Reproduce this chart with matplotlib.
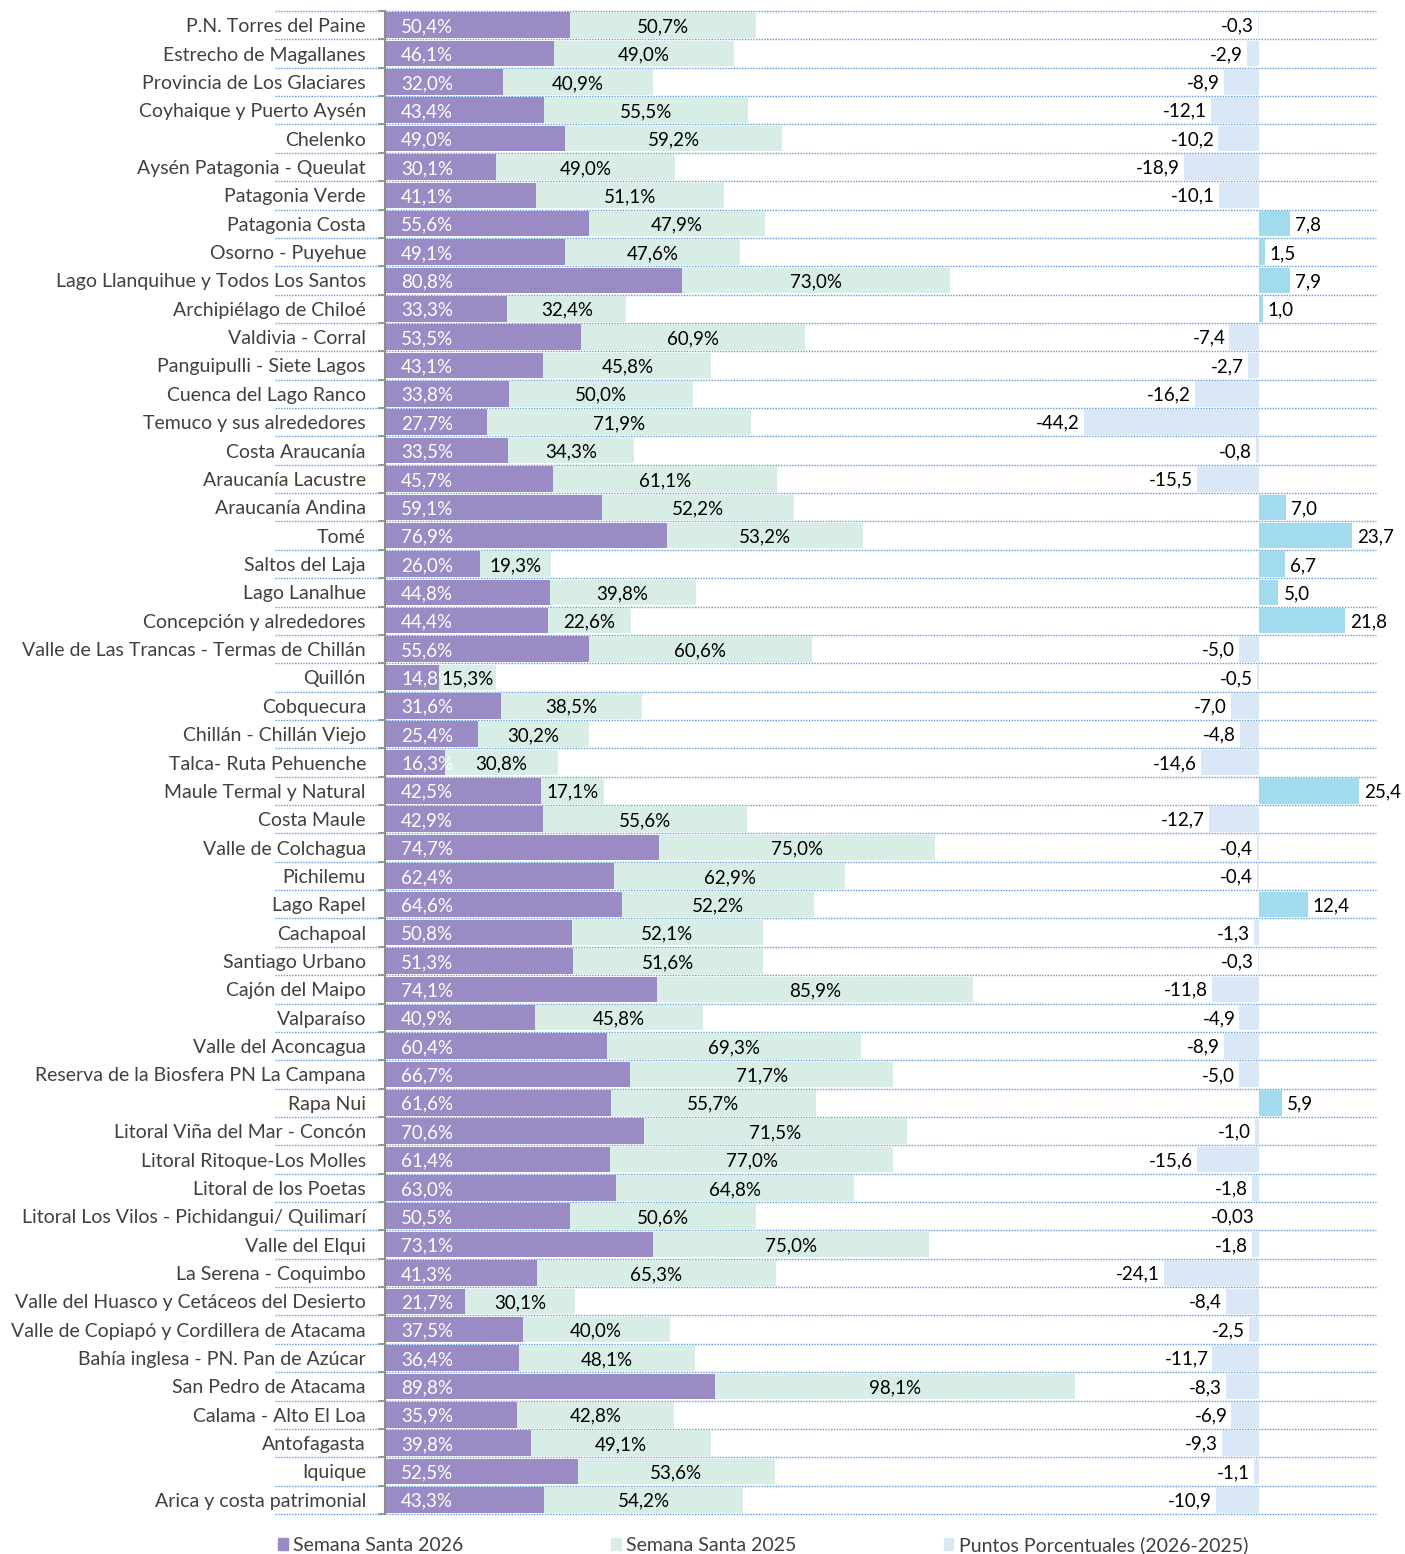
import numpy as np
import matplotlib.pyplot as plt
from matplotlib.patches import Patch

plt.rcParams['font.family'] = ['Lato', 'DejaVu Sans']

categories = [
    "P.N. Torres del Paine", "Estrecho de Magallanes", "Provincia de Los Glaciares",
    "Coyhaique y Puerto Aysén", "Chelenko", "Aysén Patagonia - Queulat",
    "Patagonia Verde", "Patagonia Costa", "Osorno - Puyehue",
    "Lago Llanquihue y Todos Los Santos", "Archipiélago de Chiloé", "Valdivia - Corral",
    "Panguipulli - Siete Lagos", "Cuenca del Lago Ranco", "Temuco y sus alrededores",
    "Costa Araucanía", "Araucanía Lacustre", "Araucanía Andina", "Tomé",
    "Saltos del Laja", "Lago Lanalhue", "Concepción y alrededores",
    "Valle de Las Trancas - Termas de Chillán", "Quillón", "Cobquecura",
    "Chillán - Chillán Viejo", "Talca- Ruta Pehuenche", "Maule Termal y Natural",
    "Costa Maule", "Valle de Colchagua", "Pichilemu", "Lago Rapel", "Cachapoal",
    "Santiago Urbano", "Cajón del Maipo", "Valparaíso", "Valle del Aconcagua",
    "Reserva de la Biosfera PN La Campana", "Rapa Nui", "Litoral Viña del Mar - Concón",
    "Litoral Ritoque-Los Molles", "Litoral de los Poetas",
    "Litoral Los Vilos - Pichidangui/ Quilimarí", "Valle del Elqui",
    "La Serena - Coquimbo", "Valle del Huasco y Cetáceos del Desierto",
    "Valle de Copiapó y Cordillera de Atacama", "Bahía inglesa - PN. Pan de Azúcar",
    "San Pedro de Atacama", "Calama - Alto El Loa", "Antofagasta", "Iquique",
    "Arica y costa patrimonial",
]

ss2026 = [50.4, 46.1, 32.0, 43.4, 49.0, 30.1, 41.1, 55.6, 49.1, 80.8, 33.3, 53.5,
          43.1, 33.8, 27.7, 33.5, 45.7, 59.1, 76.9, 26.0, 44.8, 44.4, 55.6, 14.8,
          31.6, 25.4, 16.3, 42.5, 42.9, 74.7, 62.4, 64.6, 50.8, 51.3, 74.1, 40.9,
          60.4, 66.7, 61.6, 70.6, 61.4, 63.0, 50.5, 73.1, 41.3, 21.7, 37.5, 36.4,
          89.8, 35.9, 39.8, 52.5, 43.3]

ss2025 = [50.7, 49.0, 40.9, 55.5, 59.2, 49.0, 51.1, 47.9, 47.6, 73.0, 32.4, 60.9,
          45.8, 50.0, 71.9, 34.3, 61.1, 52.2, 53.2, 19.3, 39.8, 22.6, 60.6, 15.3,
          38.5, 30.2, 30.8, 17.1, 55.6, 75.0, 62.9, 52.2, 52.1, 51.6, 85.9, 45.8,
          69.3, 71.7, 55.7, 71.5, 77.0, 64.8, 50.6, 75.0, 65.3, 30.1, 40.0, 48.1,
          98.1, 42.8, 49.1, 53.6, 54.2]

puntos = [-0.3, -2.9, -8.9, -12.1, -10.2, -18.9, -10.1, 7.8, 1.5, 7.9, 1.0, -7.4,
          -2.7, -16.2, -44.2, -0.8, -15.5, 7.0, 23.7, 6.7, 5.0, 21.8, -5.0, -0.5,
          -7.0, -4.8, -14.6, 25.4, -12.7, -0.4, -0.4, 12.4, -1.3, -0.3, -11.8, -4.9,
          -8.9, -5.0, 5.9, -1.0, -15.6, -1.8, -0.03, -1.8, -24.1, -8.4, -2.5, -11.7,
          -8.3, -6.9, -9.3, -1.1, -10.9]

purple = '#9a8bc4'
green = '#d8ede5'
neg_col = '#d9e7f7'
pos_col = '#a2dbee'
grid_col = '#5b9be6'
axis_col = '#8c8c8c'
txt_col = '#404040'
fs = 14        # category / legend text
fs_num = 13.5  # data labels


def fmt(v, pct=False):
    s = f"{v:.2f}" if abs(v) < 0.1 else f"{v:.1f}"
    s = s.replace('.', ',')
    return s + '%' if pct else s


W, H = 1405, 1554
fig = plt.figure(figsize=(W / 100, H / 100), dpi=100)
ax = fig.add_axes([385 / W, 1 - 1514 / H, (1376 - 385) / W, (1514 - 11) / H])

n = len(categories)
y = np.arange(n)
a = np.array(ss2026)
b = np.array(ss2025)

ax.barh(y, a, height=0.9, color=purple, zorder=2)
ax.barh(y, b, left=a, height=0.9, color=green, zorder=2)
ax.set_xlim(0, 991 / 3.672)
ax.set_ylim(n - 0.5, -0.5)

# dotted row separators (spreadsheet borders)
for yb in np.arange(-0.5, n + 0.5, 1):
    ax.plot([-0.111, 1.0], [yb, yb], transform=ax.get_yaxis_transform(),
            color=grid_col, lw=1.0, ls=(0, (1, 1)), clip_on=False, zorder=1)

for i in range(n):
    ax.annotate(fmt(a[i], True), (0, i), xytext=(16, -1.5), textcoords='offset pixels',
                ha='left', va='center', color='white', fontsize=fs_num, zorder=5)
    ax.annotate(fmt(b[i], True), (a[i] + b[i] / 2, i), xytext=(0, -1.5),
                textcoords='offset pixels', ha='center', va='center',
                color='black', fontsize=fs_num, zorder=5)

ax.set_xticks([])
ax.set_yticks(np.arange(-0.5, n, 1))
ax.set_yticklabels([])
ax.set_yticks(y, minor=True)
ax.set_yticklabels(categories, minor=True, fontsize=fs, color=txt_col)
ax.tick_params(axis='y', which='major', length=5, width=1.2, color=axis_col)
ax.tick_params(axis='y', which='minor', length=0, pad=13.7)
for s in ['top', 'right', 'bottom']:
    ax.spines[s].set_visible(False)
ax.spines['left'].set_color(axis_col)
ax.spines['left'].set_linewidth(1.5)

# secondary axis for percentage points
ax2 = ax.twiny()
d = np.array(puntos)
ax2.barh(y, d, height=0.9, color=[pos_col if v > 0 else neg_col for v in d], zorder=2)
ax2.set_xlim((385 - 1258.7) / 3.95, (1376 - 1258.7) / 3.95)
ax2.set_ylim(n - 0.5, -0.5)
for i in range(n):
    if d[i] >= 0:
        ax2.annotate(fmt(d[i]), (d[i], i), xytext=(5, -1.5), textcoords='offset pixels',
                     ha='left', va='center', color='black', fontsize=fs_num)
    else:
        ax2.annotate(fmt(d[i]), (d[i], i), xytext=(-4, -1), textcoords='offset pixels',
                     ha='right', va='center', color='black', fontsize=fs_num)
ax2.set_xticks([])
for s in ax2.spines.values():
    s.set_visible(False)

handles = [Patch(color=purple), Patch(color=green), Patch(color=neg_col)]
labels = ['Semana Santa 2026', 'Semana Santa 2025', 'Puntos Porcentuales (2026-2025)']
fig.legend(handles, labels, loc='center left', bbox_to_anchor=(278 / W, 1 - 1545 / H),
           ncol=3, frameon=False, fontsize=fs, handlelength=0.5, handleheight=0.6,
           handletextpad=0.26, columnspacing=7.6, borderpad=0, borderaxespad=0,
           labelcolor=txt_col)

fig.savefig('out.png', dpi=100)
